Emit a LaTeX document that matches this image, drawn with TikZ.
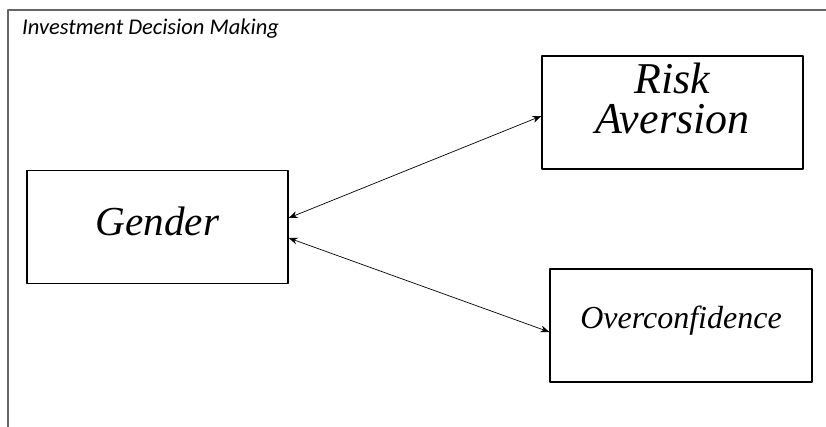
\documentclass[tikz,border=0pt]{standalone}
\usepackage{fontspec}
\usepackage{graphicx}
\setmainfont{Liberation Serif}
\newfontfamily\titlefont{Carlito}
\usetikzlibrary{arrows.meta}
\newcommand{\varlabel}[2]{\scalebox{#1}{\fontsize{40}{40}\selectfont\itshape #2}}
\begin{document}
\begin{tikzpicture}[line cap=round,line join=round,>={Stealth[length=9pt,width=7pt]},x=1pt,y=1pt,
	varbox/.style={draw,line width=1.3pt,inner sep=0pt,minimum width=261pt,minimum height=113pt},
	vartext/.style={inner sep=0pt,align=center},
	link/.style={<->,line width=0.7pt}]
	\useasboundingbox (0,0) rectangle (826,427);
	% frame of the diagram
	\draw[gray!80!black,line width=1.3pt] (8,0)--(8,417)--(826,417);
	\node[anchor=base west,inner sep=0pt,font=\titlefont\itshape\fontsize{22.5}{25}\selectfont] (title) at (22,392) {Investment Decision Making};
	% variables
	\node[varbox] (gender) at (157.5,200) {};
	\node[varbox] (risk) at (672.5,314.5) {};
	\node[varbox,minimum width=262pt] (overconf) at (681,101.5) {};
	\node[vartext] (gendertext) at ([yshift=6pt]gender.center) {\varlabel{1.03}{Gender}};
	\node[vartext] (risktext) at ([yshift=8pt]risk.center) {\varlabel{1.1}{\begin{tabular}{@{}c@{}}Risk\\[-0.1em]Aversion\end{tabular}}};
	\node[vartext] (overconftext) at ([yshift=5pt]overconf.center) {\varlabel{0.8}{Overconfidence}};
	% relations
	\draw[link] ([yshift=9pt]gender.east)--([yshift=-3.5pt]risk.west);
	\draw[link] ([yshift=-11pt]gender.east)--([yshift=-6.5pt]overconf.west);
\end{tikzpicture}
\end{document}
